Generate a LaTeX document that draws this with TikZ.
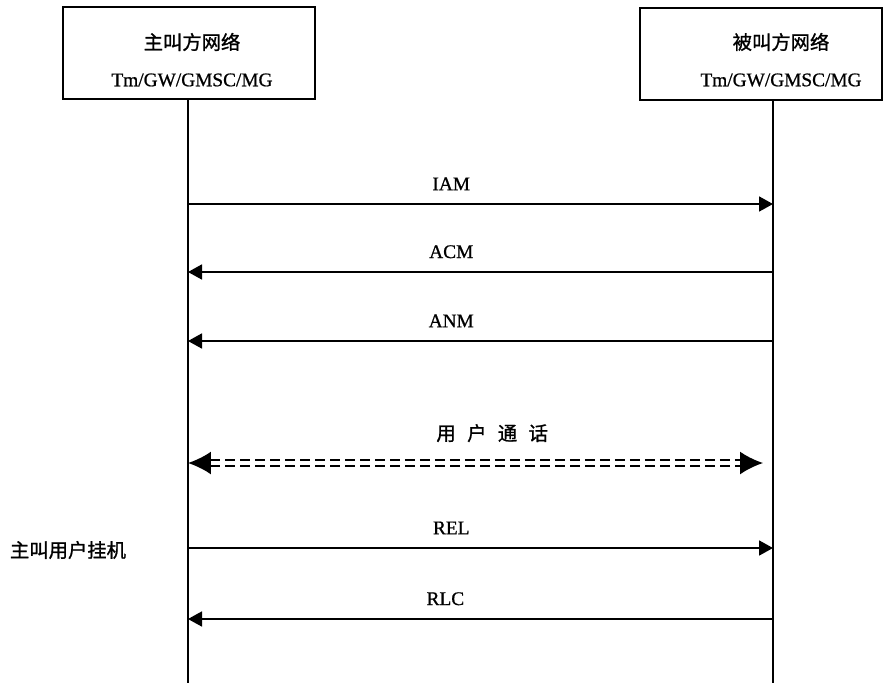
\documentclass[tikz,border=0pt]{standalone}
\usepackage{fontspec}
\setmainfont{Liberation Serif}[FakeBold=0.8]
\newfontfamily\cjk{Noto Sans CJK SC}[FakeBold=1.2]
\usetikzlibrary{arrows.meta, positioning}

\begin{document}
\begin{tikzpicture}[
    x=0.02cm, y=-0.02cm,
    entity/.style={rectangle, draw, line width=1.2pt, minimum height=1.84cm},
    title/.style={font=\cjk\fontsize{11}{13}\selectfont, inner sep=1pt},
    addr/.style={font=\fontsize{11}{13}\selectfont, inner sep=1pt},
    lifeline/.style={line width=1.3pt},
    msg/.style={-{Triangle[length=0.28cm, width=0.3cm]}, line width=1pt},
    msglabel/.style={above=4pt, pos=0.45, font=\fontsize{11}{13}\selectfont},
    talk/.style={{Latex[length=0.46cm, width=0.46cm]}-{Latex[length=0.46cm, width=0.46cm]},
        line width=1.1pt, double, double distance=2.2pt, dash pattern=on 0.2cm off 0.1cm},
    talklabel/.style={above=8pt, pos=0.52, font=\cjk\fontsize{11}{13}\selectfont}
]
\useasboundingbox (0,0) rectangle (888,683);

% Network entities
\node[entity, minimum width=5.04cm] (caller) at (189,53) {};
\node[title] (callerName) at (192,42) {主叫方网络};
\node[addr] (callerAddr) at (192,80) {Tm/GW/GMSC/MG};

\node[entity, minimum width=4.84cm] (callee) at (761,54) {};
\node[title] (calleeName) at (781,42) {被叫方网络};
\node[addr] (calleeAddr) at (781,80) {Tm/GW/GMSC/MG};

% Lifelines
\coordinate (callerBot) at (188,683);
\coordinate (calleeBot) at (773,683);
\draw[lifeline] (caller.south -| callerBot) -- (callerBot);
\draw[lifeline] (callee.south -| calleeBot) -- (calleeBot);

% Message ends on the lifelines
\foreach \m/\y in {iam/204, acm/272, anm/341, talk/463, rel/548, rlc/619} {
    \coordinate (\m A) at (callerBot |- 0,\y);
    \coordinate (\m B) at (calleeBot |- 0,\y);
}

% Messages
\draw[msg] (iamA) -- node[msglabel] {IAM} (iamB);
\draw[msg] (acmB) -- node[msglabel, pos=0.55] {ACM} (acmA);
\draw[msg] (anmB) -- node[msglabel, pos=0.55] {ANM} (anmA);
\draw[talk, shorten >=0.2cm] (talkA) -- node[talklabel] {用\hspace{6.5pt}户\hspace{6.5pt}通\hspace{6.5pt}话} (talkB);
\draw[msg] (relA) -- node[msglabel] {REL} (relB);
\draw[msg] (rlcB) -- node[msglabel, pos=0.56] {RLC} (rlcA);

% Note
\node[title] (hangup) at (68,550) {主叫用户挂机};

\end{tikzpicture}
\end{document}
